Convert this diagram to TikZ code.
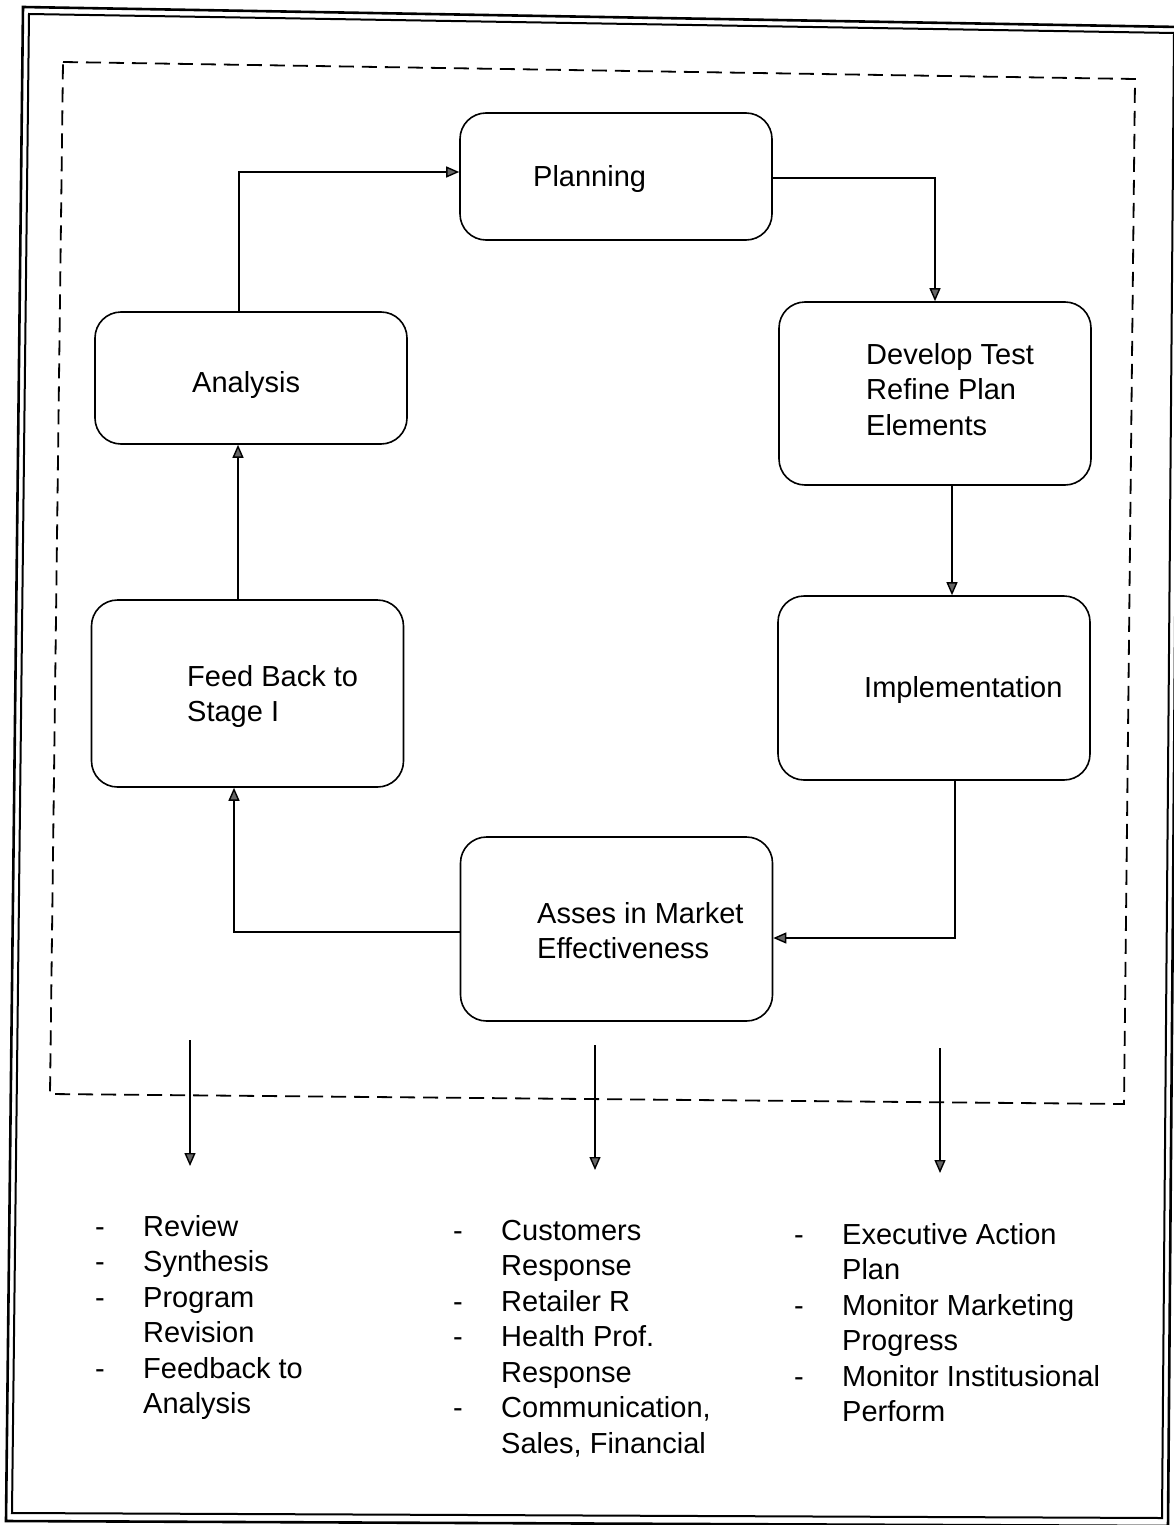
\documentclass[tikz,border=0pt]{standalone}
\usepackage{fontspec}
\setmainfont{Liberation Sans}
\usetikzlibrary{arrows.meta}

\begin{document}
\begin{tikzpicture}[x=1pt,y=-1pt,
  box/.style={draw, line width=1.6pt, rounded corners=26pt,
    minimum width=312pt, inner sep=0pt},
  lbl/.style={anchor=base west, inner sep=0pt,
    font=\fontsize{29}{35.5}\selectfont},
  arr/.style={line width=1.4pt,
    -{Triangle[length=13pt,width=11pt,fill=black!60]}},
  frame/.style={line width=2pt},
  zone/.style={line width=1.8pt, dash pattern=on 15pt off 8pt},
]
\useasboundingbox (0,0) rectangle (1173,1525);

% double page frame
\draw[frame, line width=2.6pt] (23,7) -- (1180,27) -- (1168,1526) -- (6,1521) -- cycle;
\draw[frame] (29,14) -- (1174,33) -- (1162,1518) -- (12,1513) -- cycle;

% dashed boundary of the cycle
\draw[zone] (63,62) -- (1135,79) -- (1124,1104) -- (50,1094) -- cycle;

% stage boxes
\node[box, minimum height=127pt] (plan)  at (616,176.5) {};
\node[box, minimum height=183pt] (dev)   at (935,393.5) {};
\node[box, minimum height=132pt] (anal)  at (251,378)   {};
\node[box, minimum height=184pt] (impl)  at (934,688)   {};
\node[box, minimum height=187pt] (feed)  at (247.5,693.5) {};
\node[box, minimum height=184pt] (asses) at (616.5,929) {};

% stage labels
\node[lbl] (tplan)  at (533,186) {Planning};
\node[lbl] (tdev)   at (866,364) {\begin{tabular}[t]{@{}l@{}}Develop Test\\Refine Plan\\Elements\end{tabular}};
\node[lbl] (tanal)  at (192,392) {Analysis};
\node[lbl] (timpl)  at (864,697) {Implementation};
\node[lbl] (tfeed)  at (187,686) {\begin{tabular}[t]{@{}l@{}}Feed Back to\\Stage I\end{tabular}};
\node[lbl] (tasses) at (537,923) {\begin{tabular}[t]{@{}l@{}}Asses in Market\\Effectiveness\end{tabular}};

% cycle connectors
\draw[arr] ([yshift=-1.5pt]plan.east) -| (dev.north);
\draw[arr] ([xshift=17pt]dev.south) -- ([xshift=18pt]impl.north);
\draw[arr] ([xshift=21pt]impl.south) |- ([yshift=-9pt]asses.east);
\draw[arr] ([yshift=-3pt]asses.west) -| ([xshift=-13.5pt]feed.south);
\draw[arr] ([xshift=-9.5pt]feed.north) -- ([xshift=-13pt]anal.south);
\draw[arr] ([xshift=-12pt]anal.north) |- ([yshift=4.5pt]plan.west);

% outputs leaving the cycle
\coordinate (o1a) at (190,1040); \coordinate (o1b) at (190,1166);
\coordinate (o2a) at (595,1045); \coordinate (o2b) at (595,1170);
\coordinate (o3a) at (940,1048); \coordinate (o3b) at (940,1173);
\draw[arr] (o1a) -- (o1b);
\draw[arr] (o2a) -- (o2b);
\draw[arr] (o3a) -- (o3b);

% output lists
\node[lbl] (l1) at (95,1236) {\begin{tabular}[t]{@{}p{48pt}@{}l@{}}
-&Review\\ -&Synthesis\\ -&Program\\ &Revision\\ -&Feedback to\\ &Analysis\end{tabular}};
\node[lbl] (l2) at (453,1240) {\begin{tabular}[t]{@{}p{48pt}@{}l@{}}
-&Customers\\ &Response\\ -&Retailer R\\ -&Health Prof.\\ &Response\\ -&Communication,\\ &Sales, Financial\end{tabular}};
\node[lbl] (l3) at (794,1244) {\begin{tabular}[t]{@{}p{48pt}@{}l@{}}
-&Executive Action\\ &Plan\\ -&Monitor Marketing\\ &Progress\\ -&Monitor Institusional\\ &Perform\end{tabular}};
\end{tikzpicture}
\end{document}
